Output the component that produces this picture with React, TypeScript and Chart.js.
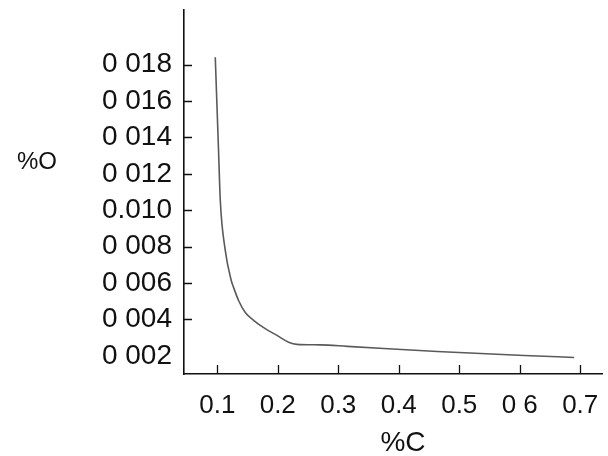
import React, { useEffect, useRef } from "react";
import { Chart, registerables } from "chart.js";

Chart.register(...registerables);

const carbonPct = [0.0967, 0.1021, 0.105, 0.1132, 0.1231, 0.1269, 0.1352, 0.1463, 0.16, 0.1793, 0.1987, 0.2179, 0.2317, 0.2702, 0.315, 0.4636, 0.6074, 0.69];
const oxygenPct = [0.0184, 0.01328, 0.01053, 0.00779, 0.00614, 0.00576, 0.00504, 0.00438, 0.00395, 0.00349, 0.00312, 0.00275, 0.00263, 0.0026, 0.00252, 0.00224, 0.00202, 0.00191];

const xTickValues = [0.1, 0.2, 0.3, 0.4, 0.5, 0.6, 0.7];
const xTickLabels = ["0.1", "0.2", "0.3", "0.4", "0.5", "0 6", "0.7"];
const yTickValues = [0.002, 0.004, 0.006, 0.008, 0.01, 0.012, 0.014, 0.016, 0.018];
const yTickLabels = ["0 002", "0 004", "0 006", "0 008", "0.010", "0 012", "0 014", "0 016", "0 018"];

const xTitle = "%C";
const yTitle = "%O";

const FONT = "'Liberation Sans', Arial, sans-serif";

export default function App() {
  const ref = useRef<HTMLCanvasElement | null>(null);

  useEffect(() => {
    if (!ref.current) return;
    const inwardTicks = {
      id: "inwardTicks",
      afterDraw(chart: any) {
        const { ctx, chartArea, scales } = chart;
        ctx.save();
        ctx.strokeStyle = "#111";
        ctx.lineWidth = 1.3;
        ctx.beginPath();
        xTickValues.forEach((v) => {
          const px = Math.round(scales.x.getPixelForValue(v)) + 0.5;
          ctx.moveTo(px, chartArea.bottom);
          ctx.lineTo(px, chartArea.bottom - 9);
        });
        yTickValues.slice(1).forEach((v) => {
          const py = Math.round(scales.y.getPixelForValue(v)) + 0.5;
          ctx.moveTo(chartArea.left, py);
          ctx.lineTo(chartArea.left + 8, py);
        });
        ctx.stroke();
        ctx.fillStyle = "#111";
        ctx.textAlign = "center";
        ctx.textBaseline = "middle";
        ctx.font = `24px ${FONT}`;
        ctx.fillText(yTitle, chartArea.left - 147, 162);
        ctx.font = `28px ${FONT}`;
        ctx.fillText(xTitle, 403, 443);
        ctx.restore();
      },
    };

    const chart = new Chart(ref.current, {
      type: "line",
      data: {
        datasets: [
          {
            data: carbonPct.map((x, i) => ({ x, y: oxygenPct[i] })),
            borderColor: "#5a5a5a",
            borderWidth: 1.6,
            pointRadius: 0,
            fill: false,
            cubicInterpolationMode: "monotone",
          },
        ],
      },
      options: {
        animation: false,
        responsive: false,
        maintainAspectRatio: false,
        layout: { padding: { top: 10, right: 6, left: 0, bottom: 0 } },
        plugins: { legend: { display: false }, tooltip: { enabled: false } },
        scales: {
          x: {
            type: "linear",
            min: 0.045,
            max: 0.736,
            afterBuildTicks: (s: any) => {
              s.ticks = xTickValues.map((value) => ({ value }));
            },
            afterFit: (s: any) => {
              s.height = 82;
              s.paddingLeft = 0;
              s.paddingRight = 0;
            },
            grid: { display: false, drawTicks: false },
            border: { display: true, color: "#111", width: 1.6 },
            ticks: {
              padding: 16,
              color: "#111",
              font: { family: FONT, size: 26 },
              maxRotation: 0,
              autoSkip: false,
              callback: (_v: any, i: number) => xTickLabels[i],
            },
          },
          y: {
            type: "linear",
            min: 0.001,
            max: 0.021,
            afterBuildTicks: (s: any) => {
              s.ticks = yTickValues.map((value) => ({ value }));
            },
            afterFit: (s: any) => {
              s.width = 184;
              s.paddingTop = 0;
              s.paddingBottom = 0;
            },
            grid: { display: false, drawTicks: false },
            border: { display: true, color: "#111", width: 1.6 },
            ticks: {
              padding: 12,
              color: "#111",
              font: { family: FONT, size: 28 },
              autoSkip: false,
              callback: (_v: any, i: number) => yTickLabels[i],
            },
          },
        },
      },
      plugins: [inwardTicks],
    });
    return () => chart.destroy();
  }, []);

  return (
    <div style={{ position: "fixed", left: 0, top: 0, width: 608, height: 456, background: "#fff" }}>
      <canvas ref={ref} width={608} height={456} style={{ width: 608, height: 456 }} />
    </div>
  );
}
